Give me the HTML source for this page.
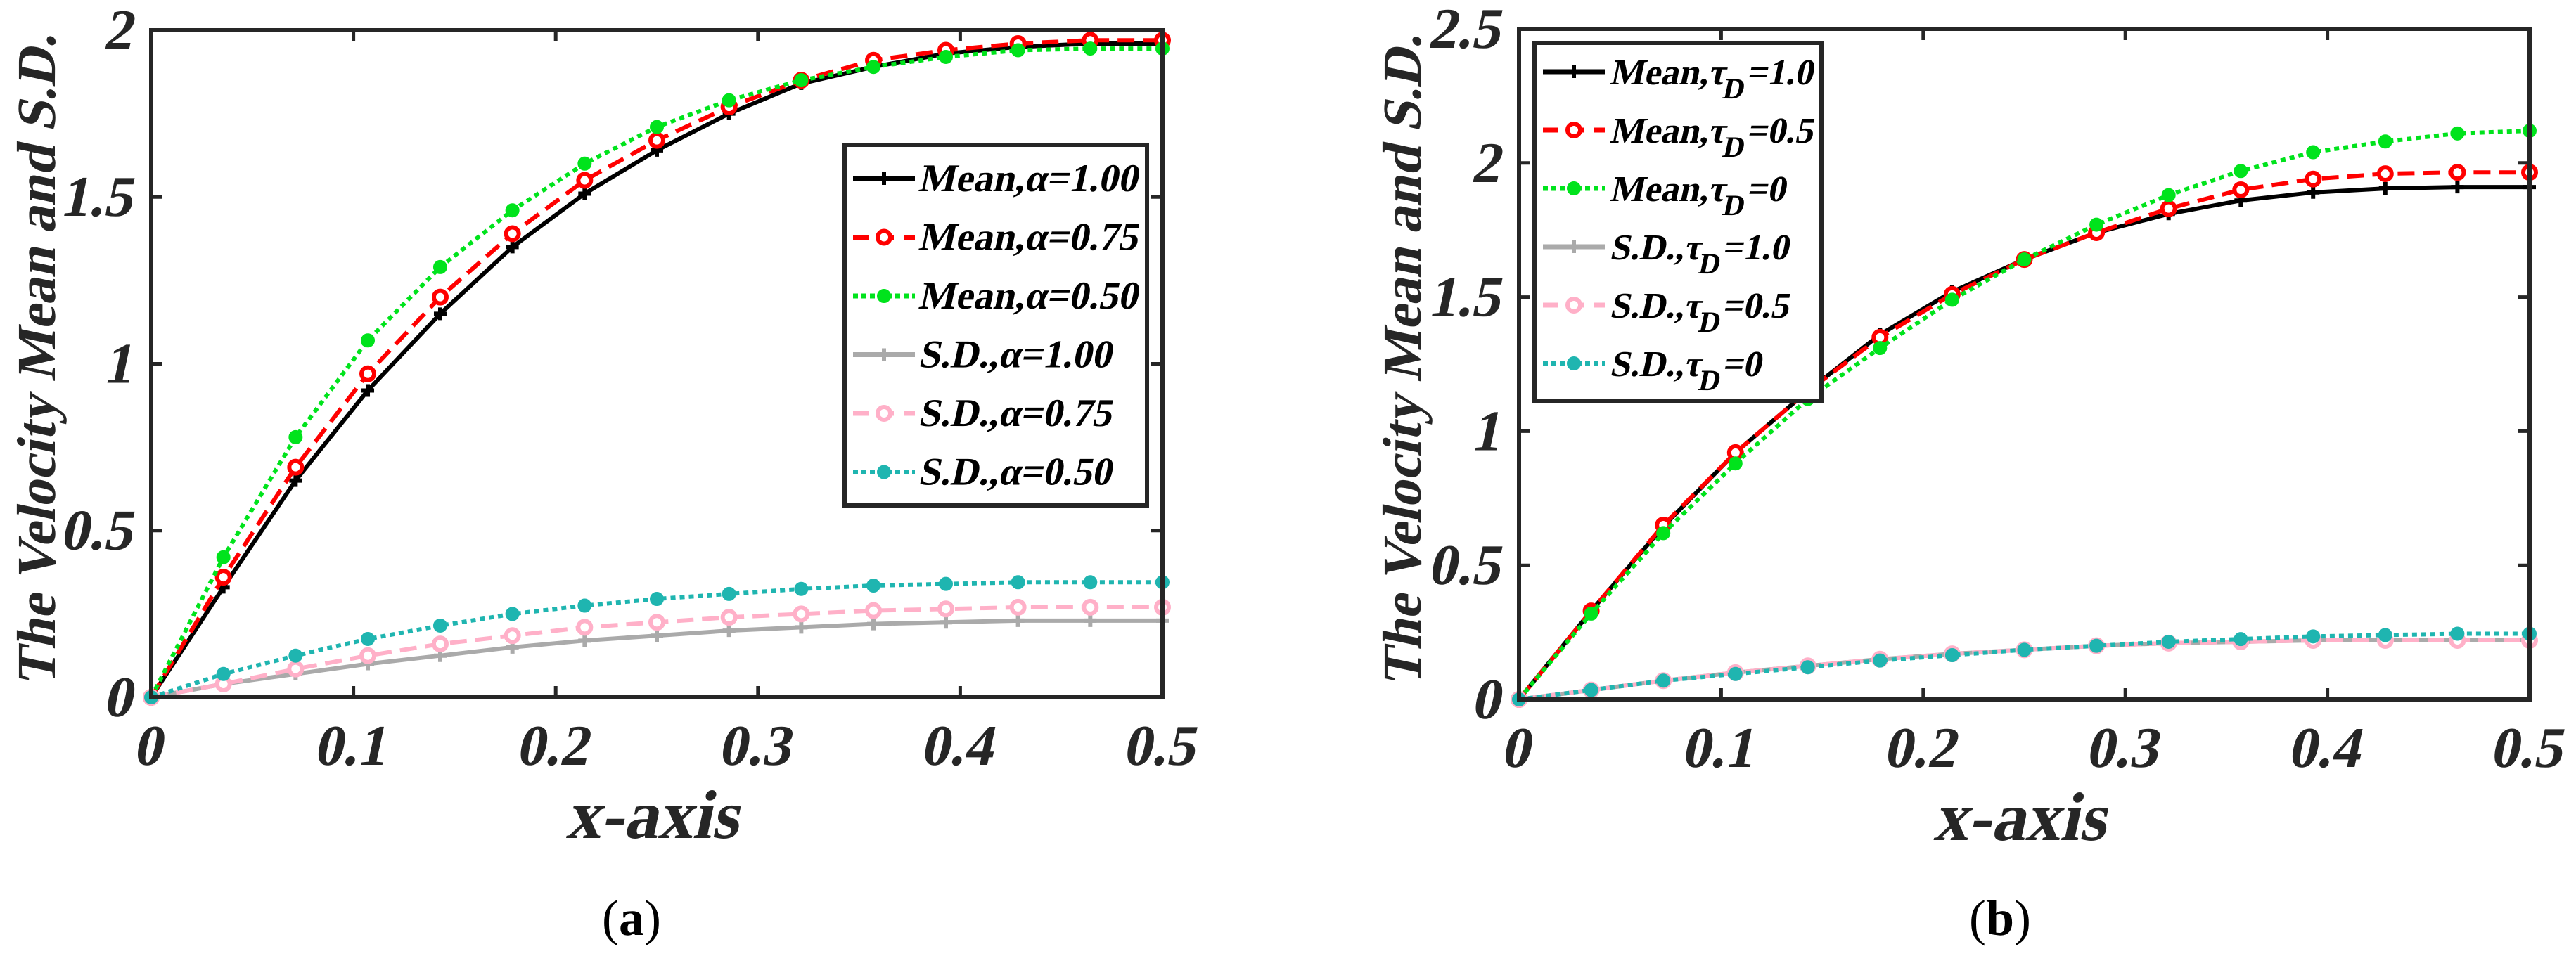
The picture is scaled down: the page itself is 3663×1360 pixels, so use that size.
<!DOCTYPE html>
<html><head><meta charset="utf-8"><style>
html,body{margin:0;padding:0;background:#fff;}
svg{display:block;}
svg text{font-family:"Liberation Serif","DejaVu Serif",serif;}
svg text.it{font-weight:bold;font-style:normal;transform-box:fill-box;transform-origin:center;transform:skewX(-12deg);}
</style></head><body>
<svg id="fig" width="3663" height="1360" viewBox="0 0 3663 1360" xmlns="http://www.w3.org/2000/svg"></svg>
<script>
const xs = [0,0.0357,0.0714,0.1071,0.1429,0.1786,0.2143,0.25,0.2857,0.3214,0.3571,0.3929,0.4286,0.4643,0.5];
const xTicks = [0,0.1,0.2,0.3,0.4,0.5];
const xTickLabels = ["0","0.1","0.2","0.3","0.4","0.5"];
const yTicksA = [0,0.5,1,1.5,2];
const yTickLabelsA = ["0","0.5","1","1.5","2"];
const yTicksB = [0,0.5,1,1.5,2,2.5];
const yTickLabelsB = ["0","0.5","1","1.5","2","2.5"];
const aMean100 = [0,0.33,0.65,0.92,1.15,1.35,1.51,1.64,1.75,1.84,1.89,1.93,1.95,1.96,1.96];
const aMean075 = [0,0.36,0.69,0.97,1.20,1.39,1.55,1.67,1.77,1.85,1.91,1.94,1.96,1.97,1.97];
const aMean050 = [0,0.42,0.78,1.07,1.29,1.46,1.60,1.71,1.79,1.85,1.89,1.92,1.94,1.945,1.945];
const aSD100 = [0,0.04,0.07,0.10,0.125,0.15,0.17,0.185,0.20,0.21,0.22,0.225,0.23,0.23,0.23];
const aSD075 = [0,0.04,0.085,0.125,0.16,0.185,0.21,0.225,0.24,0.25,0.26,0.265,0.27,0.27,0.27];
const aSD050 = [0,0.07,0.125,0.175,0.215,0.25,0.275,0.295,0.31,0.325,0.335,0.34,0.345,0.345,0.345];
const bMean10 = [0,0.33,0.645,0.92,1.15,1.36,1.52,1.64,1.74,1.81,1.86,1.89,1.905,1.91,1.91];
const bMean05 = [0,0.33,0.65,0.92,1.15,1.35,1.51,1.64,1.74,1.83,1.90,1.94,1.96,1.965,1.965];
const bMean0 = [0,0.32,0.62,0.88,1.12,1.31,1.49,1.64,1.77,1.88,1.97,2.04,2.08,2.11,2.12];
const bSD10 = [0,0.035,0.07,0.10,0.125,0.15,0.17,0.185,0.20,0.21,0.215,0.22,0.22,0.22,0.22];
const bSD05 = [0,0.035,0.07,0.10,0.125,0.15,0.17,0.185,0.20,0.21,0.215,0.22,0.22,0.22,0.22];
const bSD0 = [0,0.035,0.07,0.095,0.12,0.145,0.165,0.185,0.20,0.215,0.225,0.235,0.24,0.245,0.245];

const NS="http://www.w3.org/2000/svg";
const svg=document.getElementById('fig');
function mk(tag,attrs,parent){const e=document.createElementNS(NS,tag);for(const k in attrs)e.setAttribute(k,attrs[k]);(parent||svg).appendChild(e);return e;}

const styles = {
  black:{c:'#000000',dash:'',m:'plus'},
  red:{c:'#ff0000',dash:'24 12',m:'circle'},
  green:{c:'#00e31c',dash:'7 6',m:'dot'},
  gray:{c:'#aaaaaa',dash:'',m:'plus'},
  pink:{c:'#ffb0c8',dash:'24 12',m:'circle'},
  teal:{c:'#1fb5b0',dash:'7 6',m:'dot'}
};

function marker(g,st,x,y){
  if(st.m==='plus'){
    const p=mk('path',{d:`M${x-9},${y}H${x+9}M${x},${y-9}V${y+9}`,stroke:st.c,'stroke-width':6,fill:'none'},g);
    
  }else if(st.m==='circle'){
    const c=mk('circle',{cx:x,cy:y,r:9,fill:'#fff',stroke:st.c,'stroke-width':6},g);
    
  }else{
    const c=mk('circle',{cx:x,cy:y,r:9,fill:st.c,stroke:st.c,'stroke-width':2},g);
    
  }
}

function panel(cfg){
  const {L,R,T,B,ymax,yt,ytl,series,legend,name,cap,capX,yLabelX}=cfg;
  const g=mk('g',{});
  
  
  const sx=v=>L+(v/0.5)*(R-L);
  const sy=v=>B-(v/ymax)*(B-T);
  xTicks.forEach((t,i)=>{
    const x=sx(t);
    const tk=mk('path',{d:`M${x},${B}V${B-16}M${x},${T}V${T+16}`,stroke:'#262626','stroke-width':5},g);
    
    const tl=mk('text',{class:'it',x:x,y:B+96,'text-anchor':'middle','font-size':82,fill:'#262626'},g);
    tl.textContent=xTickLabels[i];
    
  });
  yt.forEach((t,i)=>{
    const y=sy(t);
    const tk=mk('path',{d:`M${L},${y}H${L+16}M${R},${y}H${R-16}`,stroke:'#262626','stroke-width':5},g);
    
    const tl=mk('text',{class:'it',x:L-22,y:y+27,'text-anchor':'end','font-size':82,fill:'#262626'},g);
    tl.textContent=ytl[i];
    
  });
  series.forEach(s=>{
    const st=styles[s.style];
    const sg=mk('g',{},g);
    
    
    const pts=s.data.map((v,i)=>`${sx(xs[i]).toFixed(1)},${sy(v).toFixed(1)}`).join(' ');
    const pl=mk('polyline',{points:pts,fill:'none',stroke:st.c,'stroke-width':6,'stroke-dasharray':st.dash,'stroke-linejoin':'round'},sg);
    
    s.data.forEach((v,i)=>marker(sg,st,sx(xs[i]),sy(v)));
  });
  const fr=mk('rect',{x:L,y:T,width:R-L,height:B-T,fill:'none',stroke:'#262626','stroke-width':6},g);
  
  const lg=mk('g',{},g);
  
  
  const lb=mk('rect',{x:legend.x,y:legend.y,width:legend.w,height:legend.h,fill:'#fff',stroke:'#262626','stroke-width':6},lg);
  
  legend.items.forEach((it,i)=>{
    const st=styles[series[i].style];
    const cy=legend.y0+i*legend.dy;
    const eg=mk('g',{},lg);
    
    
    const lx0=legend.x+12, lx1=legend.x+100;
    mk('line',{x1:lx0,y1:cy,x2:lx1,y2:cy,stroke:st.c,'stroke-width':7,'stroke-dasharray':st.dash?(st.m==='circle'?'22 14':'7 5'):''},eg);
    marker(eg,st,(lx0+lx1)/2,cy);
    const tx=mk('text',{class:'it',x:legend.x+108,y:cy+18,'font-size':legend.fs,fill:'#000'},eg);
    tx.innerHTML=it;
  });
  const xt=mk('text',{class:'it',x:(L+R)/2,y:B+200,'text-anchor':'middle','font-size':98,fill:'#262626'},g);
  xt.textContent='x-axis';
  
  const yg=mk('g',{transform:`translate(${yLabelX},${(T+B)/2-10}) rotate(-90)`},g);
  const yl=mk('text',{class:'it',x:0,y:0,'text-anchor':'middle','font-size':78,fill:'#262626'},yg);
  yl.textContent='The Velocity Mean and S.D.';
  
  const cp=mk('text',{x:capX,y:1330,'text-anchor':'middle','font-size':72,fill:'#000'},g);
  cp.innerHTML=cap;
  
}

panel({name:'panel-a',L:215,R:1653,T:43,B:992,ymax:2,yt:yTicksA,ytl:yTickLabelsA,yLabelX:78,capX:898,
  cap:'(<tspan font-weight="bold">a</tspan>)',
  series:[{name:'mean-alpha-1.00',style:'black',data:aMean100},{name:'mean-alpha-0.75',style:'red',data:aMean075},{name:'mean-alpha-0.50',style:'green',data:aMean050},
          {name:'sd-alpha-1.00',style:'gray',data:aSD100},{name:'sd-alpha-0.75',style:'pink',data:aSD075},{name:'sd-alpha-0.50',style:'teal',data:aSD050}],
  legend:{x:1201,y:206,w:430,h:513,y0:254,dy:83.5,fs:56,items:['Mean,α=1.00','Mean,α=0.75','Mean,α=0.50','S.D.,α=1.00','S.D.,α=0.75','S.D.,α=0.50']}
});
const sub=v=>`Mean,τ<tspan font-size="42" dy="20">D</tspan><tspan dy="-20">=${v}</tspan>`;
const subS=v=>`S.D.,τ<tspan font-size="42" dy="20">D</tspan><tspan dy="-20">=${v}</tspan>`;
panel({name:'panel-b',L:2160,R:3597,T:41,B:995,ymax:2.5,yt:yTicksB,ytl:yTickLabelsB,yLabelX:2020,capX:2844,
  cap:'(<tspan font-weight="bold">b</tspan>)',
  series:[{name:'mean-tau-1.0',style:'black',data:bMean10},{name:'mean-tau-0.5',style:'red',data:bMean05},{name:'mean-tau-0',style:'green',data:bMean0},
          {name:'sd-tau-1.0',style:'gray',data:bSD10},{name:'sd-tau-0.5',style:'pink',data:bSD05},{name:'sd-tau-0',style:'teal',data:bSD0}],
  legend:{x:2182,y:61,w:408,h:510,y0:102,dy:83,fs:52,items:[sub('1.0'),sub('0.5'),sub('0'),subS('1.0'),subS('0.5'),subS('0')]}
});
</script>
</body></html>
